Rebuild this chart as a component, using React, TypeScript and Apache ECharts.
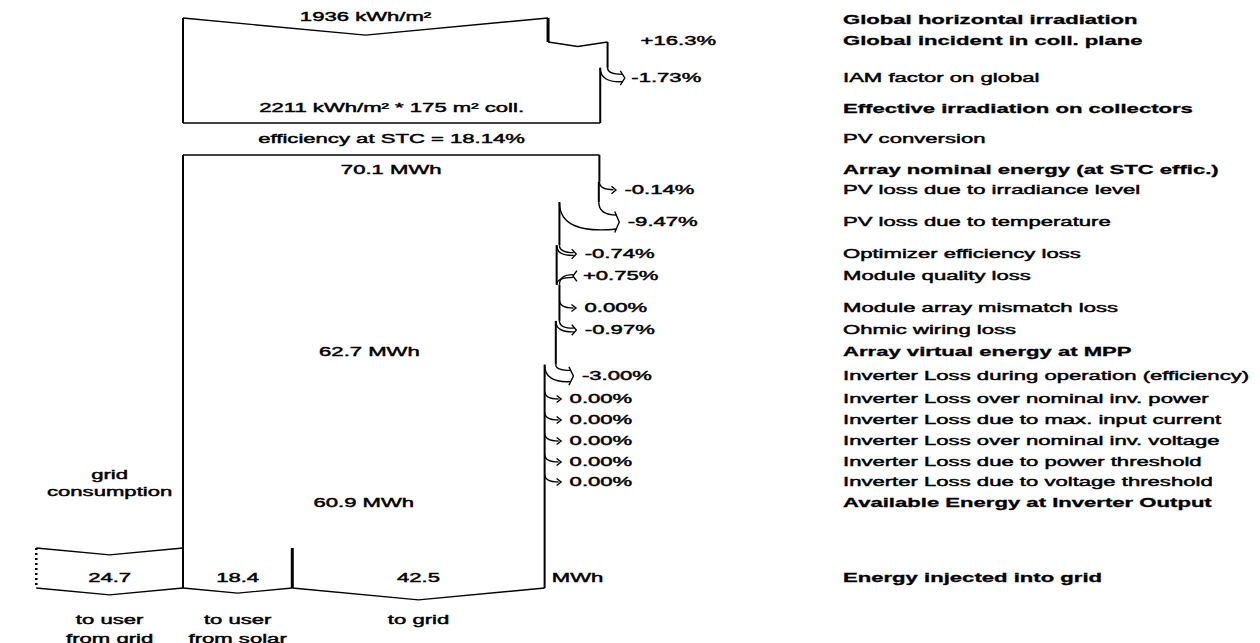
import React, { useEffect, useRef } from 'react';
import * as echarts from 'echarts';

// ---------------- data ----------------
const GLOBAL_HORIZONTAL = 1936; // kWh/m²
const EFFECTIVE_IRRADIATION = 2211; // kWh/m²
const COLLECTOR_AREA = 175; // m²
const STC_EFFICIENCY = 18.14; // %

const irradiationLabels = ['Global incident in coll. plane', 'IAM factor on global'];
const irradiationPcts = [16.3, -1.73];

const ARRAY_NOMINAL = 70.1; // MWh
const ARRAY_VIRTUAL = 62.7; // MWh
const INVERTER_OUTPUT = 60.9; // MWh

const arrayLossLabels = [
  'PV loss due to irradiance level',
  'PV loss due to temperature',
  'Optimizer efficiency loss',
  'Module quality loss',
  'Module array mismatch loss',
  'Ohmic wiring loss',
];
const arrayLossPcts = [-0.14, -9.47, -0.74, 0.75, 0.0, -0.97];

const inverterLossLabels = [
  'Inverter Loss during operation (efficiency)',
  'Inverter Loss over nominal inv. power',
  'Inverter Loss due to max. input current',
  'Inverter Loss over nominal inv. voltage',
  'Inverter Loss due to power threshold',
  'Inverter Loss due to voltage threshold',
];
const inverterLossPcts = [-3.0, 0.0, 0.0, 0.0, 0.0, 0.0];

const splitLabels = ['to user\nfrom grid', 'to user\nfrom solar', 'to grid'];
const splitValues = [24.7, 18.4, 42.5]; // MWh: from grid, from solar, to grid

const stageLabels = [
  'Global horizontal irradiation',
  'Effective irradiation on collectors',
  'PV conversion',
  'Array nominal energy (at STC effic.)',
  'Array virtual energy at MPP',
  'Available Energy at Inverter Output',
  'Energy injected into grid',
];

// ---------------- layout (px) ----------------
const W = 1260;
const H = 643;
const ORIGIN_PX = 183;
const PX_PER_MWH = 5.94;
const X_MIN = -ORIGIN_PX / PX_PER_MWH;
const X_MAX = (W - ORIGIN_PX) / PX_PER_MWH;
const LABEL_X = 843;
const SX = 1.7;
const FONT = '"Liberation Sans", Arial, Helvetica, sans-serif';

const stageRowY = [20, 109, 139, 170, 352, 503, 578];
const stageBold = [true, true, false, true, true, true, true];
const irradiationRowY = [41, 78];
const irradiationBold = [true, false];
const arrayLossRowY = [190, 222, 254, 276, 308, 330];
const inverterLossRowY = [376, 399, 420, 441, 462, 482];

const Y_TOP = 18;
const Y_GAIN = 42;
const Y_IRR_BOTTOM = 123;
const Y_IRR_TEXT = 108;
const Y_EFF_TEXT = 139;
const Y_ENERGY_TOP = 155;
const Y_SPLIT_TOP = 548;
const Y_SPLIT_BOTTOM = 588;
const Y_SPLIT_VALUE = 578;
const Y_SPLIT_LABEL = 620;
const Y_GRID_LABEL = 475;

function fmtPct(v: number) {
  const dec = Math.abs(v) >= 10 ? 1 : 2;
  const sign = v > 0 ? '+' : v < 0 ? '-' : '';
  return `${sign}${Math.abs(v).toFixed(dec)}%`;
}

function renderDiagram(_params: any, api: any) {
  const X = (v: number) => api.coord([v, 0])[0];
  const Y = (y: number) => api.coord([0, y])[1];
  const kids: any[] = [];
  const stroke = '#000';

  const poly = (pts: number[][], lw = 1.4, dash?: number[]) =>
    kids.push({
      type: 'polyline',
      shape: { points: pts },
      style: { stroke, lineWidth: lw, fill: 'none', lineDash: dash },
    });
  const vline = (x: number, y1: number, y2: number, lw = 2) => poly([[x, y1], [x, y2]], lw);
  const curve = (x1: number, y1: number, cx: number, cy: number, x2: number, y2: number, lw = 1.4) =>
    kids.push({
      type: 'bezierCurve',
      shape: { x1, y1, cpx1: cx, cpy1: cy, x2, y2 },
      style: { stroke, lineWidth: lw, fill: 'none' },
    });
  const label = (t: string, x: number, y: number, align = 'center', bold = false) =>
    kids.push({
      type: 'text',
      x,
      y,
      scaleX: SX,
      style: {
        text: t,
        x: 0,
        y: 0,
        align,
        verticalAlign: 'middle',
        font: `${bold ? 'bold ' : ''}13px ${FONT}`,
        fill: '#000',
        stroke: '#000',
        lineWidth: bold ? 0.3 : 0.45,
      },
    });
  const depth = (a: number, b: number) => Math.max(4.5, 0.047 * Math.abs(b - a));

  const lossArrow = (xr: number, w: number, yl: number) => {
    const ys = yl - 8 - w * 0.3;
    const e = Math.min(7, w / 2);
    const tip = xr + 16 + w * 0.1;
    const end = tip - 2;
    curve(xr, ys, xr, yl - e, end, yl - e);
    if (w > 0.8) curve(xr - w, ys, xr - w, yl + e + w * 0.15, end, yl + e);
    poly([[tip - 4, yl - e - 3.5], [tip + 0.5, yl], [tip - 4, yl + e + 3.5]]);
    return { ys, tip };
  };
  const gainArrow = (xr: number, w: number, yl: number) => {
    const ye = yl + 8 + w * 0.3;
    const e = Math.min(7, w / 2);
    const tail = xr + 16 + w * 0.1;
    curve(tail, yl - e, xr + w, yl - e, xr + w, ye);
    if (w > 0.8) curve(tail, yl + e, xr, yl + e, xr, ye);
    poly([[tail + 4, yl - e - 4], [tail, yl], [tail + 4, yl + e + 4]]);
    return { ye, tip: tail };
  };

  // ---------- irradiation box ----------
  const x0 = X(0);
  const g0 = (GLOBAL_HORIZONTAL * COLLECTOR_AREA * (STC_EFFICIENCY / 100)) / 1000;
  const xg0 = X(g0);
  const yTop = Y(Y_TOP);
  poly([[x0, yTop], [(x0 + xg0) / 2, yTop + depth(x0, xg0)], [xg0, yTop]]);
  label(`${GLOBAL_HORIZONTAL} kWh/m²`, (x0 + xg0) / 2, Y(Y_TOP - 1));
  let gv = g0;
  let gx = xg0;
  let edgeTop = yTop;
  irradiationPcts.forEach((pct, i) => {
    const nv = gv * (1 + pct / 100);
    const nx = X(nv);
    const w = Math.abs(nx - gx);
    const yl = Y(irradiationRowY[i]);
    if (pct > 0) {
      const yg = Y(Y_GAIN);
      vline(gx, edgeTop, yg, 3);
      poly([[gx, yg], [(gx + nx) / 2, yg + depth(gx, nx)], [nx, yg]]);
      label(fmtPct(pct), nx + 33, yl, 'left');
      edgeTop = yg;
    } else {
      const { ys, tip } = lossArrow(gx, w, yl);
      vline(gx, edgeTop, ys);
      edgeTop = ys;
      label(fmtPct(pct), tip + 7, yl, 'left');
    }
    label(irradiationLabels[i], LABEL_X, yl, 'left', irradiationBold[i]);
    gv = nv;
    gx = nx;
  });
  const yIrrB = Y(Y_IRR_BOTTOM);
  vline(gx, edgeTop, yIrrB);
  vline(x0, yTop, yIrrB);
  poly([[x0, yIrrB], [gx, yIrrB]]);
  label(
    `${EFFECTIVE_IRRADIATION} kWh/m² * ${COLLECTOR_AREA} m² coll.`,
    (x0 + gx) / 2,
    Y(Y_IRR_TEXT)
  );
  label(`efficiency at STC = ${STC_EFFICIENCY.toFixed(2)}%`, (x0 + gx) / 2, Y(Y_EFF_TEXT));

  // ---------- energy box ----------
  let v = ARRAY_NOMINAL;
  let xr = X(v);
  const yE = Y(Y_ENERGY_TOP);
  poly([[x0, yE], [xr, yE]]);
  label(`${ARRAY_NOMINAL.toFixed(1)} MWh`, (x0 + xr) / 2, Y(stageRowY[3]));
  edgeTop = yE;
  const steps = [
    ...arrayLossPcts.map((p, i) => ({ p, y: arrayLossRowY[i], t: arrayLossLabels[i] })),
    ...inverterLossPcts.map((p, i) => ({ p, y: inverterLossRowY[i], t: inverterLossLabels[i] })),
  ];
  let xVirtual = xr;
  steps.forEach((s, i) => {
    const nv = v * (1 + s.p / 100);
    const nx = X(nv);
    const w = Math.abs(nx - xr);
    const yl = Y(s.y);
    if (s.p > 0) {
      const { ye, tip } = gainArrow(xr, w, yl);
      vline(xr, edgeTop, ye);
      edgeTop = ye;
      label(fmtPct(s.p), tip + 10, yl, 'left');
    } else {
      const { ys, tip } = lossArrow(xr, w, yl);
      vline(xr, edgeTop, ys);
      edgeTop = ys;
      label(fmtPct(s.p), tip + 9, yl, 'left');
    }
    label(s.t, LABEL_X, yl, 'left', false);
    v = nv;
    xr = nx;
    if (i === arrayLossPcts.length - 1) xVirtual = xr;
  });
  const yB = Y(Y_SPLIT_BOTTOM);
  const yT = Y(Y_SPLIT_TOP);
  vline(xr, edgeTop, yB);
  vline(x0, yE, yB);
  label(`${ARRAY_VIRTUAL.toFixed(1)} MWh`, (x0 + xVirtual) / 2, Y(stageRowY[4]));
  label(`${INVERTER_OUTPUT.toFixed(1)} MWh`, (x0 + xr) / 2, Y(stageRowY[5]));

  // ---------- split at the bottom ----------
  const xL = X(-splitValues[0]);
  const xS = X(splitValues[1]);
  const xG = X(splitValues[1] + splitValues[2]);
  poly([[xL, yT], [(xL + x0) / 2, yT + depth(xL, x0)], [x0, yT]]);
  poly([[xL, yT], [xL, yB]], 2.5, [2, 3]);
  poly([[xL, yB], [(xL + x0) / 2, yB + depth(xL, x0)], [x0, yB]]);
  poly([[x0, yB], [(x0 + xS) / 2, yB + depth(x0, xS)], [xS, yB]]);
  poly([[xS, yB], [(xS + xG) / 2, yB + depth(xS, xG)], [xG, yB]]);
  vline(xS, yT, yB, 3);
  const centers = [(xL + x0) / 2, (x0 + xS) / 2, (xS + xG) / 2];
  splitValues.forEach((sv, i) => {
    label(sv.toFixed(1), centers[i], Y(Y_SPLIT_VALUE));
    splitLabels[i].split('\n').forEach((ln, k) => label(ln, centers[i], Y(Y_SPLIT_LABEL + 19 * k)));
  });
  label('MWh', xG + 7, Y(Y_SPLIT_VALUE), 'left');
  label('grid', centers[0], Y(Y_GRID_LABEL));
  label('consumption', centers[0], Y(Y_GRID_LABEL + 17));

  // ---------- stage labels ----------
  stageLabels.forEach((t, i) => label(t, LABEL_X, Y(stageRowY[i]), 'left', stageBold[i]));

  return { type: 'group', children: kids };
}

export default function App() {
  const ref = useRef<HTMLDivElement>(null);
  useEffect(() => {
    if (!ref.current) return;
    const chart = echarts.init(ref.current, null, { renderer: 'svg' });
    chart.setOption({
      animation: false,
      backgroundColor: '#fff',
      grid: { left: 0, right: 0, top: 0, bottom: 0 },
      xAxis: { type: 'value', min: X_MIN, max: X_MAX, show: false },
      yAxis: { type: 'value', min: 0, max: H, inverse: true, show: false },
      series: [
        {
          type: 'custom',
          silent: true,
          renderItem: renderDiagram,
          data: [[0, 0]],
        },
      ],
    });
    return () => chart.dispose();
  }, []);
  return (
    <div
      ref={ref}
      style={{ position: 'absolute', left: 0, top: 0, width: W, height: H, background: '#fff' }}
    />
  );
}
